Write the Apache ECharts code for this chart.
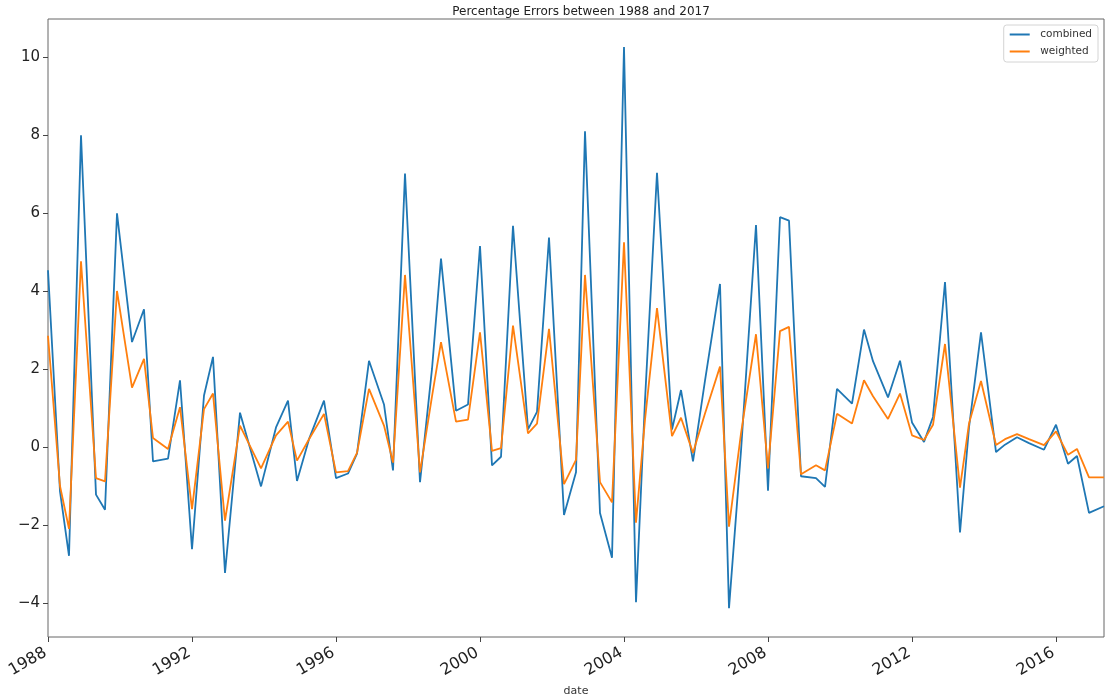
<!DOCTYPE html>
<html>
<head>
<meta charset="utf-8">
<script src="https://cdn.jsdelivr.net/npm/echarts@6/dist/echarts.min.js"></script>
<style>
  html, body { margin: 0; padding: 0; background: #fff; }
  #chart { width: 1105px; height: 696px; }
</style>
</head>
<body>
<div id="chart"></div>
<script>
const dates = [
  '1988-01', '1988-05', '1988-08', '1988-12', '1989-05', '1989-08', '1989-12', '1990-05',
  '1990-09', '1990-12', '1991-05', '1991-09', '1992-01', '1992-05', '1992-08', '1992-12',
  '1993-05', '1993-12', '1994-05', '1994-09', '1994-12', '1995-04', '1995-09', '1996-01',
  '1996-05', '1996-08', '1996-12', '1997-05', '1997-08', '1997-12', '1998-05', '1998-09',
  '1998-12', '1999-05', '1999-09', '2000-01', '2000-05', '2000-08', '2000-12', '2001-05',
  '2001-08', '2001-12', '2002-05', '2002-09', '2002-12', '2003-05', '2003-09', '2004-01',
  '2004-05', '2004-08', '2004-12', '2005-05', '2005-08', '2005-12', '2006-04', '2006-09',
  '2006-12', '2007-04', '2007-09', '2008-01', '2008-05', '2008-08', '2008-12', '2009-05',
  '2009-08', '2009-12', '2010-05', '2010-09', '2010-12', '2011-05', '2011-09', '2012-01',
  '2012-05', '2012-08', '2012-12', '2013-05', '2013-08', '2013-12', '2014-05', '2014-08',
  '2014-12', '2015-04', '2015-09', '2016-01', '2016-05', '2016-08', '2016-12', '2017-05'
]

const combined = [
  4.53, -1.14, -2.79, 7.99, -1.22, -1.61, 5.99, 2.69,
  3.53, -0.37, -0.30, 1.71, -2.62, 1.32, 2.31, -3.23,
  0.88, -1.01, 0.50, 1.19, -0.87, 0.20, 1.19, -0.80,
  -0.68, -0.17, 2.21, 1.09, -0.60, 7.01, -0.90, 2.00,
  4.83, 0.93, 1.09, 5.15, -0.47, -0.25, 5.67, 0.45,
  0.90, 5.37, -1.74, -0.65, 8.09, -1.69, -2.84, 10.25,
  -3.98, 1.20, 7.03, 0.45, 1.46, -0.37, 1.70, 4.18,
  -4.13, -0.10, 5.69, -1.12, 5.89, 5.80, -0.75, -0.80,
  -1.02, 1.49, 1.11, 3.01, 2.20, 1.27, 2.21, 0.63,
  0.13, 0.77, 4.23, -2.19, 0.50, 2.94, -0.13, 0.06,
  0.25, 0.10, -0.07, 0.57, -0.43, -0.23, -1.69, -1.52
]

const weighted = [
  2.85, -1.00, -2.10, 4.76, -0.80, -0.88, 4.00, 1.52,
  2.26, 0.23, -0.05, 1.02, -1.59, 0.97, 1.37, -1.89,
  0.55, -0.55, 0.30, 0.65, -0.35, 0.20, 0.85, -0.65,
  -0.62, -0.15, 1.49, 0.55, -0.40, 4.41, -0.65, 1.30,
  2.69, 0.65, 0.70, 2.94, -0.10, -0.03, 3.11, 0.35,
  0.60, 3.03, -0.95, -0.33, 4.41, -0.90, -1.42, 5.25,
  -1.94, 0.70, 3.56, 0.28, 0.75, -0.15, 0.86, 2.06,
  -2.04, 0.35, 2.89, -0.55, 2.97, 3.08, -0.70, -0.47,
  -0.60, 0.85, 0.60, 1.71, 1.30, 0.72, 1.37, 0.30,
  0.18, 0.57, 2.64, -1.04, 0.60, 1.69, 0.05, 0.20,
  0.33, 0.20, 0.05, 0.40, -0.20, -0.05, -0.78, -0.78
]

const yTicks = [-4, -2, 0, 2, 4, 6, 8, 10]
const xTicks = [1988, 1992, 1996, 2000, 2004, 2008, 2012, 2016]

const FONT = 'DejaVu Sans'

// 'YYYY-MM' -> decimal year
const toYear = s => {
  const [y, m] = s.split('-').map(Number)
  return y + (m - 1) / 12
}
const xs = dates.map(toYear)
const pairs = vals => vals.map((v, i) => [xs[i], v])

const minus = v => (v < 0 ? '\u2212' + Math.abs(v) : String(v))

const chart = echarts.init(document.getElementById('chart'), null, { renderer: 'canvas' })

chart.setOption({
  animation: false,
  backgroundColor: '#fff',
  textStyle: { fontFamily: FONT },
  title: {
    text: 'Percentage Errors between 1988 and 2017',
    left: 576,
    top: 1,
    textAlign: 'center',
    textStyle: { fontFamily: FONT, fontSize: 12, fontWeight: 'normal', color: '#222' }
  },
  legend: {
    data: ['combined', 'weighted'],
    orient: 'vertical',
    right: 7,
    top: 25,
    icon: 'path://M0,0H20V2H0Z',
    itemWidth: 21,
    itemHeight: 2,
    itemGap: 6,
    padding: [4, 6, 5, 6],
    borderColor: '#d4d4d4',
    borderWidth: 1,
    borderRadius: 3,
    textStyle: { fontFamily: FONT, fontSize: 10.5, color: '#333', padding: [0, 0, 0, 5] }
  },
  grid: {
    left: 48,
    right: 1,
    top: 19,
    bottom: 59,
    show: true,
    borderColor: '#666',
    borderWidth: 1,
    containLabel: false,
    outerBoundsMode: 'none'
  },
  xAxis: {
    type: 'value',
    min: toYear('1988-01'),
    max: toYear('2017-05'),
    name: 'date',
    nameLocation: 'middle',
    nameGap: 47,
    nameTextStyle: { fontFamily: FONT, fontSize: 11, color: '#333' },
    splitLine: { show: false },
    axisLine: { show: false, onZero: false },
    axisTick: { show: true, length: 5, customValues: xTicks, lineStyle: { color: '#444' } },
    axisLabel: {
      customValues: xTicks,
      rotate: 30,
      margin: 13,
      padding: [0, 3, 0, 0],
      fontFamily: FONT,
      fontSize: 16,
      color: '#222',
      formatter: v => String(v)
    }
  },
  yAxis: {
    type: 'value',
    min: -4.87,
    max: 10.97,
    splitLine: { show: false },
    axisLine: { show: false, onZero: false },
    axisTick: { show: true, length: 5, customValues: yTicks, lineStyle: { color: '#444' } },
    axisLabel: {
      customValues: yTicks,
      margin: 8,
      fontFamily: FONT,
      fontSize: 15,
      color: '#222',
      formatter: minus
    }
  },
  series: [
    {
      name: 'combined',
      type: 'line',
      data: pairs(combined),
      showSymbol: false,
      symbol: 'none',
      color: '#1f77b4',
      lineStyle: { width: 1.8, color: '#1f77b4' }
    },
    {
      name: 'weighted',
      type: 'line',
      data: pairs(weighted),
      showSymbol: false,
      symbol: 'none',
      color: '#ff7f0e',
      lineStyle: { width: 1.8, color: '#ff7f0e' }
    }
  ]
})
</script>
</body>
</html>
